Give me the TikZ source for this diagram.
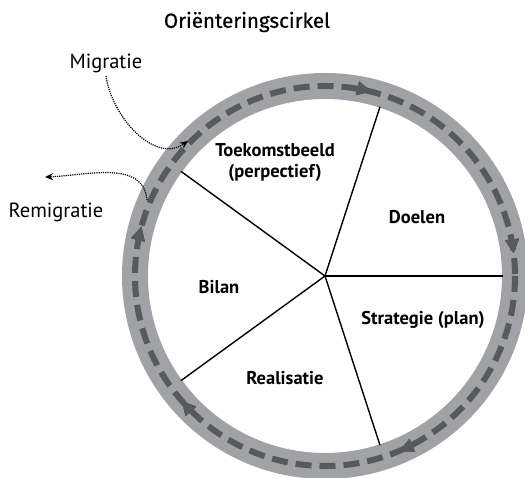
\documentclass[tikz,border=0pt]{standalone}
\usepackage{fontspec}
\setmainfont{PT Sans}
\newfontfamily\titlefont[FakeBold=0.6]{Fira Sans}
\usetikzlibrary{arrows.meta,decorations.markings}
\definecolor{ringgray}{HTML}{A1A2A5}
\definecolor{dashgray}{HTML}{58595B}

\tikzset{
  ring/.style={draw=ringgray,line width=26pt},
  track/.style={draw=dashgray,line width=6pt,dash pattern=on 16pt off 8pt},
  spoke/.style={line width=1.4pt},
  phase/.style={font=\bfseries\fontsize{18.5}{21}\selectfont,align=center},
  flow/.style={font=\fontsize{20.5}{24}\selectfont},
  migr/.style={densely dotted,line width=1.2pt,-{Stealth[length=8pt,width=7pt]}},
  turn/.style={decoration={markings,
      mark=at position #1 with {\arrow{Triangle[length=14pt,width=13pt]}}},
    postaction={decorate}},
}

\begin{document}
\begin{tikzpicture}[x=1pt,y=1pt]
\useasboundingbox (0,0) rectangle (525,478);

\coordinate (c) at (325,202);

% ring with dashed track
\draw[ring] (c) circle[radius=190];
\draw[track,turn=0.186,turn=0.386,turn=0.542,turn=0.789,turn=0.981]
  (c) ++(0:190) arc[start angle=360,end angle=0,radius=190];

% spokes
\foreach \a in {0,72,144,216,288}
  \draw[spoke] (c) -- ++(\a:178);

\node[font=\titlefont\fontsize{20.5}{24}\selectfont] (title) at (247,456) {Oriënteringscirkel};

\node[phase] (toekomst) at (275,315) {Toekomstbeeld\\(perpectief)};
\node[phase] (doelen) at (417,261) {Doelen};
\node[phase] (strategie) at (423,158) {Strategie (plan)};
\node[phase] (realisatie) at (285,100) {Realisatie};
\node[phase] (bilan) at (219,191) {Bilan};

\node[flow] (migratie) at (106,415) {Migratie};
\node[flow] (remigratie) at (56,266) {Remigratie};

\coordinate (inring) at (188,337);
\coordinate (outring) at (147,278);
\coordinate (away) at (45,301);

\draw[migr] (migratie.south) to[out=-82,in=215] (inring);
\draw[migr] (outring) to[out=95,in=2] (away);

\end{tikzpicture}
\end{document}
